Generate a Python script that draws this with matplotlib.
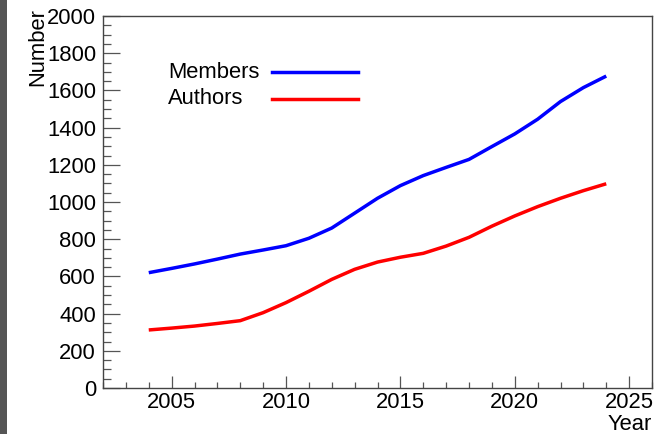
import matplotlib
matplotlib.use("Agg")
import matplotlib.pyplot as plt
from matplotlib.lines import Line2D
from matplotlib.patches import Rectangle
from matplotlib.ticker import MultipleLocator

years = [2004, 2005, 2006, 2007, 2008, 2009, 2010, 2011, 2012, 2013, 2014,
         2015, 2016, 2017, 2018, 2019, 2020, 2021, 2022, 2023, 2024]
members = [620, 643, 667, 693, 720, 742, 765, 805, 860, 940, 1020,
           1088, 1142, 1186, 1229, 1298, 1366, 1445, 1540, 1615, 1677]
authors = [312, 322, 333, 347, 362, 405, 459, 520, 584, 638, 677,
           703, 724, 763, 810, 870, 925, 975, 1020, 1061, 1098]
series_labels = ["Members", "Authors"]
series_colors = ["#0000ff", "#ff0000"]

plt.rcParams['font.family'] = ['Liberation Sans', 'DejaVu Sans']
FS = 15.8

W, H = 661, 434
fig = plt.figure(figsize=(W / 100, H / 100), dpi=100)
fig.patch.set_facecolor('white')
fig.patches.append(Rectangle((0, 0), 7 / W, 1, transform=fig.transFigure,
                             facecolor='#555555', edgecolor='none', zorder=-1))

ax = fig.add_axes([103 / W, 1 - 388 / H, (652 - 103) / W, (388 - 16) / H])
for ys, lab, col in zip([members, authors], series_labels, series_colors):
    ax.plot(years, ys, color=col, lw=2.5, solid_joinstyle='round',
            solid_capstyle='butt', label=lab)

ax.set_xlim(2002, 2026)
ax.set_ylim(0, 2000)
ax.xaxis.set_major_locator(MultipleLocator(5))
ax.xaxis.set_minor_locator(MultipleLocator(1))
ax.yaxis.set_major_locator(MultipleLocator(200))
ax.yaxis.set_minor_locator(MultipleLocator(50))

for s in ax.spines.values():
    s.set_color('#444444')
    s.set_linewidth(1.0)
ax.tick_params(axis='x', which='major', direction='in', length=8.5, width=0.9,
               color='#555555', labelsize=FS, pad=3)
ax.tick_params(axis='x', which='minor', direction='in', length=4.6, width=0.9,
               color='#555555')
ax.tick_params(axis='y', which='major', direction='in', length=12, width=0.9,
               color='#555555', labelsize=FS, pad=5)
ax.tick_params(axis='y', which='minor', direction='in', length=6, width=0.9,
               color='#555555')

fig.text(38 / W, 1 - 8 / H, "Number", rotation=90, ha='center', va='top',
         fontsize=FS)
fig.text(652 / W, 1 - 430 / H, "Year", ha='right', va='baseline', fontsize=FS)

# legend (manual, in figure coordinates)
leg_y = [72, 99]
for lab, col, yy in zip(series_labels, series_colors, leg_y):
    fig.text(168 / W, 1 - yy / H, lab, ha='left', va='center', fontsize=FS)
    fig.add_artist(Line2D([272 / W, 358 / W], [1 - yy / H, 1 - yy / H],
                          transform=fig.transFigure, color=col, lw=2.5))

fig.savefig("out.png", dpi=100)
